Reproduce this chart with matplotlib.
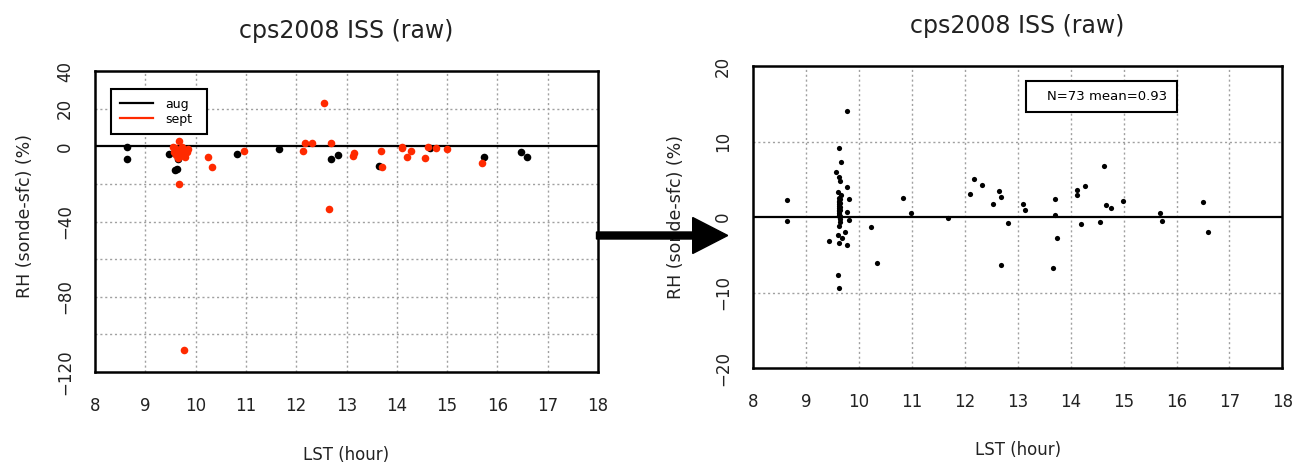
import matplotlib
matplotlib.use('Agg')
import matplotlib.pyplot as plt
from matplotlib.patches import FancyArrow, Rectangle

# ---------------- data ----------------
# left panel: raw RH difference, split by month
aug_x = [8.63, 8.63, 9.48, 9.59, 9.63, 9.64, 10.82, 11.66, 12.69, 12.84, 13.65, 14.67, 15.73, 16.47, 16.58]
aug_y = [-0.5, -6.9, -4.3, -12.6, -12.2, -6.8, -4.3, -1.6, -6.8, -4.5, -10.5, -1.1, -5.9, -2.9, -5.9]

sept_x = [9.66, 9.55, 9.60, 9.63, 9.66, 9.70, 9.73, 9.76, 9.68, 9.80,
          9.83, 9.58, 9.62, 9.72, 9.78, 9.65, 9.85, 9.66, 9.77, 10.25,
          10.33, 10.96, 12.13, 12.18, 12.31, 12.55, 12.65, 12.69, 13.12, 13.15,
          13.68, 13.71, 14.10, 14.11, 14.21, 14.28, 14.56, 14.63, 14.78, 14.99,
          15.70]
sept_y = [3.0, -0.3, -1.0, -2.2, -3.5, -1.5, -2.8, -4.0, -5.0, -2.0,
          -3.2, -3.0, -4.6, -0.5, -5.5, -6.0, -1.2, -20.0, -108.4, -5.5,
          -11.0, -2.3, -2.5, 1.9, 1.9, 23.2, -33.4, 1.9, -5.0, -3.7,
          -2.5, -10.8, -1.1, -0.2, -5.5, -2.3, -6.4, -0.2, -0.7, -1.6,
          -9.0]

# right panel: all soundings (N=73)
diff_x = [8.65, 8.65, 9.77, 9.63, 9.67, 9.57, 9.63, 9.65, 9.77, 9.61,
          9.67, 9.81, 9.63, 9.63, 9.63, 9.63, 9.63, 9.63, 9.77, 9.81,
          9.63, 9.74, 9.61, 9.68, 9.43, 9.63, 9.77, 9.61, 9.63,
          9.62, 9.62, 9.62, 9.62, 9.62, 9.65, 9.65, 9.65, 9.65, 9.65, 9.64, 9.64,
          10.24, 10.35, 10.83, 10.99, 11.69,
          12.18, 12.11, 12.33, 12.64, 12.68, 12.54, 12.82, 12.68,
          13.10, 13.13, 13.71, 13.71, 13.74, 13.67,
          14.13, 14.13, 14.27, 14.20, 14.55, 14.63, 14.66, 14.77, 14.99,
          15.68, 15.72, 16.50, 16.60]
diff_y = [2.25, -0.5, 14.1, 9.2, 7.3, 6.0, 5.3, 4.8, 4.0, 3.3,
          2.9, 2.4, 2.6, 2.0, 1.5, 1.0, 0.6, 0.3, 0.66, -0.4,
          -1.15, -2.0, -2.3, -2.7, -3.2, -3.4, -3.7, -7.7, -9.4,
          0.1, 0.8, 1.2, 1.7, 2.2, 0.2, 0.9, 1.3, 1.9, 2.4, -0.3, -0.7,
          -1.3, -6.05, 2.6, 0.5, -0.1,
          5.0, 3.05, 4.3, 3.5, 2.7, 1.7, -0.75, -6.3,
          1.7, 1.0, 2.4, 0.3, -2.8, -6.7,
          3.6, 2.9, 4.1, -0.85, -0.6, 6.75, 1.6, 1.2, 2.2,
          0.6, -0.55, 1.95, -2.0]

hour_ticks = list(range(8, 19))
left_yticks = [40, 20, 0, -40, -80, -120]
left_ygrid = [20, -20, -40, -60, -80, -100]
right_yticks = [20, 10, 0, -10, -20]
right_ygrid = [10, -10]

title = 'cps2008 ISS (raw)'
stat_text = 'N=73 mean=0.93'

# ---------------- figure ----------------
fig = plt.figure(figsize=(12.98, 4.63), dpi=100)
ax1 = fig.add_axes([0.0732, 0.1965, 0.3875, 0.650])
ax2 = fig.add_axes([0.580, 0.205, 0.408, 0.652])


def style_axes(ax, ylim, yticks, ygrid):
    ax.set_xlim(8, 18)
    ax.set_ylim(*ylim)
    ax.set_xticks(hour_ticks)
    ax.set_yticks(yticks)
    ax.tick_params(axis='both', length=0, labelsize=12, labelcolor='#222222')
    ax.tick_params(axis='x', pad=18)
    ax.tick_params(axis='y', pad=15)
    for lab in ax.get_yticklabels():
        lab.set_rotation(90)
        lab.set_va('center')
    # dotted grid, drawn by hand so it can skip the frame edges
    for h in hour_ticks[1:-1]:
        ax.axvline(h, color='#a0a0a0', lw=1, ls=(0, (1.5, 2)), zorder=0)
    for g in ygrid:
        ax.axhline(g, color='#a0a0a0', lw=1, ls=(0, (1.5, 2)), zorder=0)
    ax.axhline(0, color='black', lw=1.6, zorder=1)
    for sp in ax.spines.values():
        sp.set_linewidth(1.8)
    ax.set_title(title, fontsize=17, pad=24, color='#222222')
    ax.set_xlabel('LST (hour)', fontsize=12, color='#222222')
    ax.set_ylabel('RH (sonde-sfc) (%)', fontsize=12.5, color='#222222')


style_axes(ax1, (-120, 40), left_yticks, left_ygrid)
style_axes(ax2, (-20, 20), right_yticks, right_ygrid)

# left panel
ax1.scatter(aug_x, aug_y, s=30, color='black', zorder=3, linewidths=0)
ax1.scatter(sept_x, sept_y, s=30, color='#ff2a00', zorder=4, linewidths=0)
ax1.plot([], [], color='black', lw=1.6, label='aug')
ax1.plot([], [], color='#ff2a00', lw=1.6, label='sept')
leg = ax1.legend(loc='upper left', bbox_to_anchor=(0.02, 0.961, 0.216, 0.0), mode='expand',
                 fontsize=9, handlelength=2.6, handletextpad=1.0, labelspacing=0.15,
                 borderpad=0.7, fancybox=False, framealpha=1, edgecolor='black')
leg.get_frame().set_linewidth(1.5)
ax1.xaxis.set_label_coords(0.5, -0.245)
ax1.yaxis.set_label_coords(-0.122, 0.52)

# right panel
ax2.scatter(diff_x, diff_y, s=14, color='black', zorder=3, linewidths=0)
ax2.add_patch(Rectangle((0.515, 0.848), 0.285, 0.102, transform=ax2.transAxes,
                        fill=True, facecolor='white', edgecolor='black', lw=1.5, zorder=5))
ax2.text(0.783, 0.899, stat_text, transform=ax2.transAxes, ha='right', va='center',
         fontsize=9.5, zorder=6)
ax2.xaxis.set_label_coords(0.5, -0.24)
ax2.yaxis.set_label_coords(-0.128, 0.5)

# big arrow between the panels (inch coordinates)
arrow = FancyArrow(5.965, 2.275, 1.312, 0.0, width=0.07, head_width=0.36, head_length=0.35,
                   length_includes_head=True, color='black', transform=fig.dpi_scale_trans,
                   zorder=10)
fig.patches.append(arrow)

fig.savefig('out.png', dpi=100)
